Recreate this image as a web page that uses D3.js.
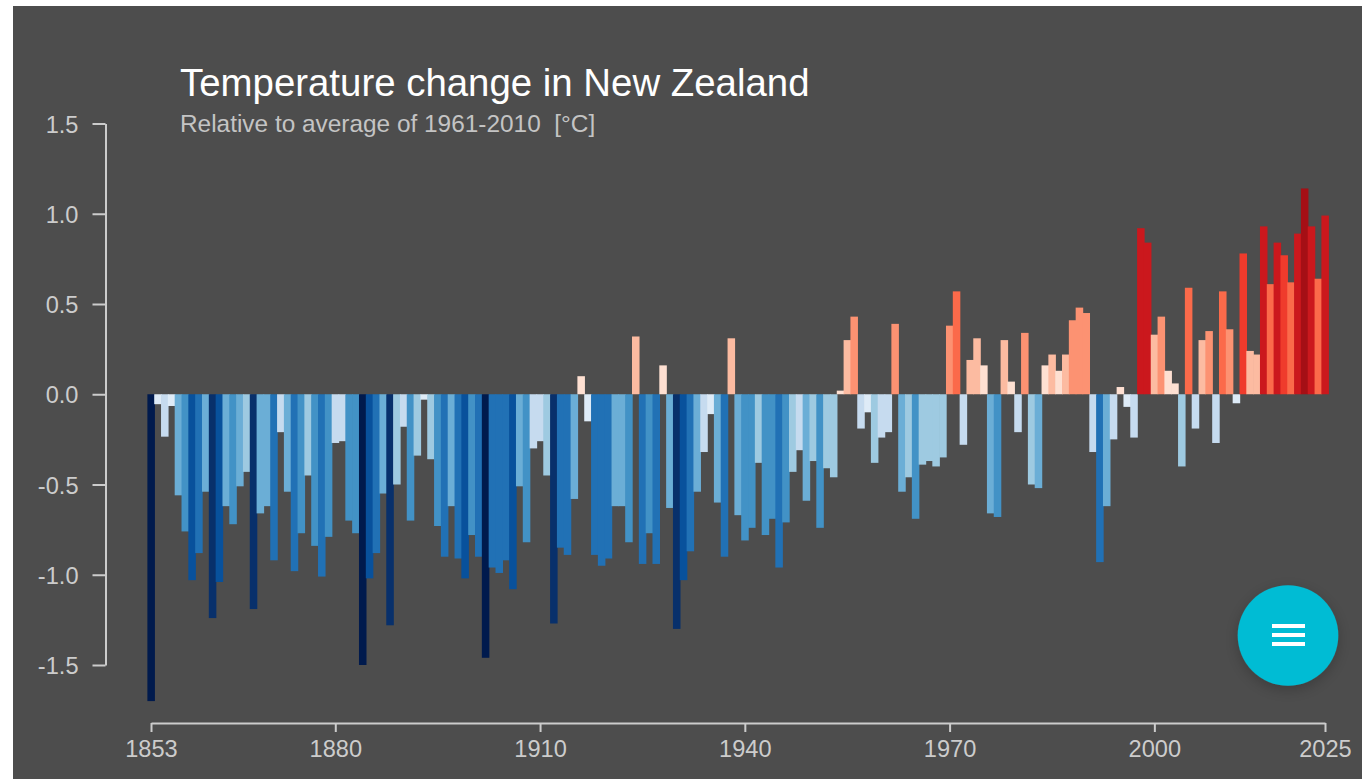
<!DOCTYPE html>
<html>
<head>
<meta charset="utf-8">
<script src="https://cdn.jsdelivr.net/npm/d3@7/dist/d3.min.js"></script>
<style>
html,body{margin:0;padding:0;background:#fff;overflow:hidden}
text{font-family:"Liberation Sans",Arial,Helvetica,sans-serif}
</style>
</head>
<body>
<svg id="chart" width="1362" height="779"></svg>
<script>
const firstYear = 1853;
const anomalies = [
-1.70,-0.055,-0.235,-0.065,-0.56,-0.76,-1.03,-0.88,-0.54,-1.24,-1.04,-0.62,-0.72,-0.51,-0.43,-1.19,-0.66,-0.62,-0.92,-0.21,
-0.54,-0.98,-0.77,-0.45,-0.84,-1.01,-0.79,-0.27,-0.26,-0.70,-0.77,-1.50,-1.02,-0.88,-0.55,-1.28,-0.50,-0.18,-0.70,-0.34,
-0.03,-0.36,-0.73,-0.90,-0.62,-0.91,-1.02,-0.78,-0.90,-1.46,-0.96,-0.99,-0.92,-1.08,-0.51,-0.82,-0.30,-0.26,-0.45,-1.27,
-0.85,-0.89,-0.58,0.10,-0.15,-0.89,-0.95,-0.91,-0.62,-0.62,-0.82,0.32,-0.94,-0.77,-0.94,0.16,-0.63,-1.30,-1.03,-0.87,
-0.54,-0.32,-0.11,-0.60,-0.90,0.31,-0.67,-0.81,-0.74,-0.38,-0.78,-0.69,-0.96,-0.71,-0.43,-0.31,-0.59,-0.37,-0.74,-0.41,
-0.46,0.02,0.30,0.43,-0.19,-0.10,-0.38,-0.24,-0.21,0.39,-0.54,-0.46,-0.69,-0.39,-0.37,-0.40,-0.35,0.38,0.57,-0.28,
0.19,0.31,0.16,-0.66,-0.68,0.30,0.07,-0.21,0.34,-0.50,-0.52,0.16,0.22,0.13,0.22,0.41,0.48,0.45,-0.32,-0.93,
-0.62,-0.25,0.04,-0.07,-0.24,0.92,0.84,0.33,0.43,0.13,0.06,-0.40,0.59,-0.19,0.30,0.35,-0.27,0.57,0.36,-0.05,
0.78,0.24,0.22,0.93,0.61,0.84,0.77,0.62,0.89,1.14,0.93,0.64,0.99
];
const years = anomalies.map((_, i) => firstYear + i);
const xTickValues = [1853, 1880, 1910, 1940, 1970, 2000, 2025];
const yTickValues = [1.5, 1.0, 0.5, 0.0, -0.5, -1.0, -1.5];
const colorBreaks = [-1.4,-1.15,-1.015,-0.845,-0.675,-0.505,-0.33,-0.16,0,0.18,0.335,0.5,0.7,0.8,1.05];
const colorRamp = ["#001a4d","#08306b","#08519c","#2171b5","#4292c6","#6baed6","#9ecae1","#c6dbef","#deebf7",
                   "#fee0d2","#fcbba1","#fc9272","#fb6a4a","#ef3b2c","#cb181d","#a50f15"];
const titleText = "Temperature change in New Zealand";
const subtitleText = "Relative to average of 1961-2010\u00a0\u00a0[°C]";

const svg = d3.select("#chart");
svg.append("defs").append("filter").attr("id","fabShadow")
  .attr("x","-30%").attr("y","-30%").attr("width","160%").attr("height","170%")
  .append("feDropShadow").attr("dx",0).attr("dy",4).attr("stdDeviation",7)
  .attr("flood-color","#000").attr("flood-opacity",0.22);

svg.append("rect").attr("x",13).attr("y",6).attr("width",1349).attr("height",773).attr("fill","#4d4d4d");

const x = d3.scaleLinear().domain([1853,2025]).range([151,1325]);
const y = d3.scaleLinear().domain([-1.5,1.5]).range([665,123.5]);
const color = d3.scaleThreshold().domain(colorBreaks).range(colorRamp);
const bw = x(1854)-x(1853);

svg.append("g").selectAll("rect").data(years).join("rect")
  .attr("x", d => x(d)-bw/2-0.2)
  .attr("width", bw+0.7)
  .attr("y", (d,i) => Math.min(y(anomalies[i]), y(0)))
  .attr("height", (d,i) => Math.abs(y(anomalies[i])-y(0)))
  .attr("fill", (d,i) => color(anomalies[i]));

const axisColor = "#cccccc";
const gy = svg.append("g").attr("transform","translate(105.5,0)")
  .call(d3.axisLeft(y).tickValues(yTickValues).tickSize(13).tickSizeOuter(0).tickPadding(14)
        .tickFormat(d => d3.format(".1f")(d).replace("\u2212","-")));
const gx = svg.append("g").attr("transform","translate(0,723)")
  .call(d3.axisBottom(x).tickValues(xTickValues).tickSize(9).tickSizeOuter(0).tickPadding(8)
        .tickFormat(d3.format("d")));
[gy,gx].forEach(g=>{
  g.selectAll("path,line").attr("stroke",axisColor).attr("stroke-width",2);
  g.selectAll("text").attr("fill",axisColor).attr("font-size",23.6)
   .attr("font-family",'"Liberation Sans",Arial,sans-serif');
});
gy.selectAll("text").attr("dy","0.36em");

svg.append("text").attr("x",180).attr("y",96).attr("fill","#fff").attr("font-size",38.4).text(titleText);
svg.append("text").attr("x",180).attr("y",132).attr("fill","#c4c4c4").attr("font-size",24.4).text(subtitleText);

const fab = svg.append("g");
fab.append("circle").attr("cx",1288).attr("cy",635.5).attr("r",50.3).attr("fill","#00bcd4").attr("filter","url(#fabShadow)");
fab.selectAll("rect").data([624,633,642]).join("rect")
  .attr("x",1272).attr("y",d=>d).attr("width",33).attr("height",4).attr("fill","#fff");
</script>
</body>
</html>
